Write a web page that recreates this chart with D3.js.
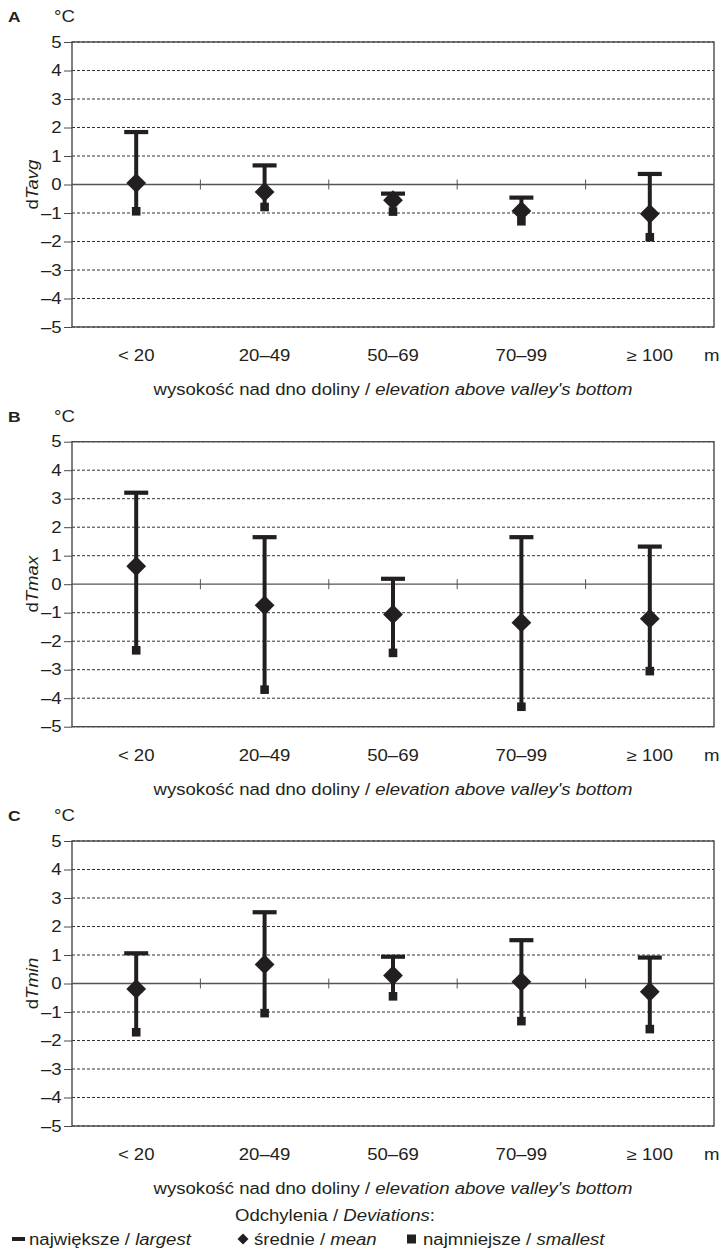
<!DOCTYPE html>
<html>
<head>
<meta charset="utf-8">
<script src="https://cdn.jsdelivr.net/npm/d3@7"></script>
<style>
  body { margin: 0; background: #fff; }
  text { font-family: "Liberation Sans", Arial, sans-serif; fill: #231f20; font-size: 16px; }
</style>
</head>
<body>
<svg id="chart" width="725" height="1260"></svg>
<script>
var categories = ["< 20", "20–49", "50–69", "70–99", "≥ 100"];
var yTicks = d3.range(-5, 6);

var tavgMax  = [1.84, 0.67, -0.32, -0.46, 0.37];
var tavgMean = [0.05, -0.26, -0.55, -0.93, -1.03];
var tavgMin  = [-0.94, -0.79, -0.95, -1.29, -1.85];

var tmaxMax  = [3.21, 1.65, 0.19, 1.65, 1.32];
var tmaxMean = [0.63, -0.74, -1.06, -1.35, -1.21];
var tmaxMin  = [-2.32, -3.70, -2.41, -4.30, -3.05];

var tminMax  = [1.06, 2.50, 0.94, 1.52, 0.91];
var tminMean = [-0.19, 0.67, 0.28, 0.06, -0.29];
var tminMin  = [-1.71, -1.04, -0.45, -1.32, -1.60];

var svg = d3.select('#chart');
var ink = "#231f20";
var left = 72, right = 714, plotH = 285;
var sx = 1.16; // the reference type is drawn a little wide

function fmt(d) { return d < 0 ? "–" + Math.abs(d) : "" + d; }

// text placed at x,y and widened horizontally
function wideText(parent, x, y, anchor) {
  return parent.append("text")
    .attr("transform", "translate(" + x + "," + y + ") scale(" + sx + ",1)")
    .attr("text-anchor", anchor || "start");
}

function renderPanel(letter, sub, top, maxs, means, mins) {
  var x = d3.scaleBand().domain(categories).range([left, right]);
  var y = d3.scaleLinear().domain([-5, 5]).range([top + plotH, top]);
  var g = svg.append("g");

  // panel letter and unit
  wideText(g, 8, top - 20).style("font-weight", "bold").style("font-size", "15px").text(letter);
  wideText(g, 54, top - 20).text("°C");

  // dashed grid lines
  g.selectAll("line.grid")
    .data(yTicks.filter(function(d) { return d !== 0; }))
    .enter().append("line")
    .attr("class", "grid")
    .attr("x1", left).attr("x2", right)
    .attr("y1", function(d) { return y(d); })
    .attr("y2", function(d) { return y(d); })
    .style("stroke", "#333")
    .style("stroke-width", 1)
    .style("stroke-dasharray", "3,2");

  // frame
  g.append("rect")
    .attr("x", left).attr("y", top)
    .attr("width", right - left).attr("height", plotH)
    .style("fill", "none").style("stroke", "#4a4a4a").style("stroke-width", 1.4);

  // y axis
  var yAxis = g.append("g")
    .attr("transform", "translate(" + left + ",0)")
    .call(d3.axisLeft(y).tickValues(yTicks).tickFormat(fmt).tickSize(8).tickPadding(1));
  yAxis.select(".domain").remove();
  yAxis.selectAll("line").style("stroke", "#4a4a4a");
  yAxis.selectAll("text")
    .style("font-size", "16px")
    .style("font-family", "Liberation Sans, Arial, sans-serif")
    .attr("fill", ink)
    .attr("transform", "scale(" + sx + ",1)");

  // zero line with category ticks
  g.append("line")
    .attr("x1", left).attr("x2", right)
    .attr("y1", y(0)).attr("y2", y(0))
    .style("stroke", "#555").style("stroke-width", 1.3);
  g.selectAll("line.sep")
    .data(categories.slice(1))
    .enter().append("line")
    .attr("class", "sep")
    .attr("x1", function(d) { return x(d); })
    .attr("x2", function(d) { return x(d); })
    .attr("y1", y(0) - 5).attr("y2", y(0) + 5)
    .style("stroke", "#555").style("stroke-width", 1);

  // category labels
  categories.forEach(function(c) {
    wideText(g, x(c) + x.bandwidth() / 2, top + plotH + 34, "middle").text(c);
  });
  wideText(g, 704, top + plotH + 34).text("m");

  // x title
  var xt = wideText(g, (left + right) / 2, top + plotH + 68, "middle");
  xt.append("tspan").text("wysokość nad dno doliny / ");
  xt.append("tspan").style("font-style", "italic").text("elevation above valley's bottom");

  // y title
  var yt = g.append("text")
    .attr("transform", "translate(38," + y(0) + ") rotate(-90) scale(" + sx + ",1)")
    .attr("text-anchor", "middle");
  yt.append("tspan").text("d");
  yt.append("tspan").style("font-style", "italic").text(sub);

  var rows = categories.map(function(c, i) {
    return { cat: c, max: maxs[i], mean: means[i], min: mins[i] };
  });
  var cx = function(d) { return x(d.cat) + x.bandwidth() / 2; };

  // whiskers
  g.selectAll("line.whisker")
    .data(rows).enter().append("line")
    .attr("x1", cx).attr("x2", cx)
    .attr("y1", function(d) { return y(d.max); })
    .attr("y2", function(d) { return y(d.min); })
    .style("stroke", ink).style("stroke-width", 4);

  // caps (largest)
  g.selectAll("line.cap")
    .data(rows).enter().append("line")
    .attr("x1", function(d) { return cx(d) - 12; })
    .attr("x2", function(d) { return cx(d) + 12; })
    .attr("y1", function(d) { return y(d.max); })
    .attr("y2", function(d) { return y(d.max); })
    .style("stroke", ink).style("stroke-width", 4.2);

  // squares (smallest)
  g.selectAll("rect.minpt")
    .data(rows).enter().append("rect")
    .attr("x", function(d) { return cx(d) - 4.3; })
    .attr("y", function(d) { return y(d.min) - 4.3; })
    .attr("width", 8.6).attr("height", 8.6)
    .style("fill", ink);

  // diamonds (mean)
  g.selectAll("path.mean")
    .data(rows).enter().append("path")
    .attr("d", d3.symbol().type(d3.symbolSquare).size(196))
    .attr("transform", function(d) {
      return "translate(" + cx(d) + "," + y(d.mean) + ") rotate(45)";
    })
    .style("fill", ink);
}

renderPanel("A", "Tavg", 42, tavgMax, tavgMean, tavgMin);
renderPanel("B", "Tmax", 441.7, tmaxMax, tmaxMean, tmaxMin);
renderPanel("C", "Tmin", 841, tminMax, tminMean, tminMin);

// legend
var legend = svg.append("g");
var lt = wideText(legend, 335, 1221, "middle");
lt.append("tspan").text("Odchylenia / ");
lt.append("tspan").style("font-style", "italic").text("Deviations");
lt.append("tspan").text(":");

var legendItems = [
  { sym: "cap", pl: "największe / ", en: "largest", x: 12 },
  { sym: "diamond", pl: "średnie / ", en: "mean", x: 237 },
  { sym: "square", pl: "najmniejsze / ", en: "smallest", x: 406 }
];
legendItems.forEach(function(it) {
  var cy = 1239;
  if (it.sym === "cap") {
    legend.append("rect").attr("x", it.x).attr("y", cy - 2).attr("width", 13).attr("height", 4).style("fill", ink);
  } else if (it.sym === "diamond") {
    legend.append("path").attr("d", d3.symbol().type(d3.symbolSquare).size(60))
      .attr("transform", "translate(" + (it.x + 6) + "," + cy + ") rotate(45)").style("fill", ink);
  } else {
    legend.append("rect").attr("x", it.x + 1).attr("y", cy - 4.5).attr("width", 9).attr("height", 9).style("fill", ink);
  }
  var t = wideText(legend, it.x + 17, cy + 6);
  t.append("tspan").text(it.pl);
  t.append("tspan").style("font-style", "italic").text(it.en);
});
</script>
</body>
</html>
